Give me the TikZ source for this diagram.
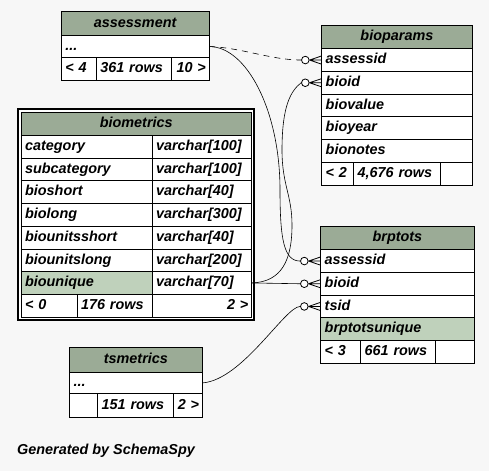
\documentclass[tikz,border=0pt]{standalone}
\usepackage{fontspec}
\setmainfont{Liberation Sans}
\usetikzlibrary{calc}
\definecolor{hdrgreen}{RGB}{155,171,150}
\definecolor{keygreen}{RGB}{191,209,187}
\definecolor{bggray}{RGB}{247,247,247}
\tikzset{
	tbl/.style={draw, line width=0.8pt, anchor=north west, inner xsep=4pt, inner ysep=0pt,
		text height=10.5pt, text depth=3pt,
		minimum height=22.7pt, fill=white, font=\fontsize{14.4}{16}\selectfont\bfseries\itshape},
	hdr/.style={tbl, fill=hdrgreen, minimum width=#1pt},
	fld/.style={tbl, text width=#1pt-8pt, align=left},
	keyfld/.style={fld=#1, fill=keygreen},
	cnt/.style={tbl, inner xsep=3pt, text width=#1pt-6pt, align=right},
	ring/.style={circle, draw, fill=white, inner sep=0pt, minimum size=7.6pt, line width=0.8pt},
	rel/.style={line width=0.6pt}
}
\newcommand{\crowfoot}[2]{%
	\draw[rel, line width=0.8pt] (#1.east) -- (#2.west)
		(#1.east) -- ($(#2.west)+(0,-4)$)
		(#1.east) -- ($(#2.west)+(0,4)$);}

\begin{document}
\begin{tikzpicture}[x=1pt, y=-1pt]
	\useasboundingbox[fill=bggray] (0,0) rectangle (489,471);

	% assessment
	\node[hdr=147.5, minimum height=23.7pt] (as-head) at (61,11.3) {assessment};
	\node[fld=147.5, minimum height=22.3pt] (as-row)  at (61,35)   {...};
	\node[fld=35]   (as-in)   at (61,57.3)  {<~4};
	\node[fld=75]   (as-rows) at (96,57.3)  {361~rows};
	\node[cnt=37.5] (as-out)  at (171,57.3) {10~>};

	% bioparams
	\node[hdr=150.4, minimum height=23.6pt] (bp-head) at (321.3,24.7) {bioparams};
	\node[fld=150.4] (bp-assessid) at (321.3,48.3)  {assessid};
	\node[fld=150.4] (bp-bioid)    at (321.3,71)    {bioid};
	\node[fld=150.4] (bp-biovalue) at (321.3,93.7)  {biovalue};
	\node[fld=150.4] (bp-bioyear)  at (321.3,116.4) {bioyear};
	\node[fld=150.4] (bp-bionotes) at (321.3,139.1) {bionotes};
	\node[fld=32]    (bp-in)   at (321.3,161.8) {<~2};
	\node[fld=87]    (bp-rows) at (353.3,161.8) {4,676~rows};
	\node[fld=31.4]  (bp-out)  at (440.3,161.8) {};

	% biometrics
	\draw[line width=2pt, fill=white] (17.7,109.3) rectangle (254,319.6);
	\node[hdr=230.3, minimum height=23.3pt] (bm-head) at (20.7,111.7) {biometrics};
	\node[fld=131]   (bm-category)        at (20.7,135)    {category};
	\node[fld=99.3]  (bm-category-t)      at (151.7,135)   {varchar[100]};
	\node[fld=131]   (bm-subcategory)     at (20.7,157.7)  {subcategory};
	\node[fld=99.3]  (bm-subcategory-t)   at (151.7,157.7) {varchar[100]};
	\node[fld=131]   (bm-bioshort)        at (20.7,180.4)  {bioshort};
	\node[fld=99.3]  (bm-bioshort-t)      at (151.7,180.4) {varchar[40]};
	\node[fld=131]   (bm-biolong)         at (20.7,203.1)  {biolong};
	\node[fld=99.3]  (bm-biolong-t)       at (151.7,203.1) {varchar[300]};
	\node[fld=131]   (bm-biounitsshort)   at (20.7,225.8)  {biounitsshort};
	\node[fld=99.3]  (bm-biounitsshort-t) at (151.7,225.8) {varchar[40]};
	\node[fld=131]   (bm-biounitslong)    at (20.7,248.5)  {biounitslong};
	\node[fld=99.3]  (bm-biounitslong-t)  at (151.7,248.5) {varchar[200]};
	\node[keyfld=131](bm-biounique)       at (20.7,271.2)  {biounique};
	\node[fld=99.3]  (bm-biounique-t)     at (151.7,271.2) {varchar[70]};
	\node[fld=56]    (bm-in)   at (20.7,293.9)  {<~0};
	\node[fld=75]    (bm-rows) at (76.7,293.9)  {176~rows};
	\node[cnt=99.3]  (bm-out)  at (151.7,293.9) {2~>};

	% brptots
	\node[hdr=153.4, minimum height=23.6pt] (bt-head) at (320.3,225.7) {brptots};
	\node[fld=153.4]    (bt-assessid) at (320.3,249.3) {assessid};
	\node[fld=153.4]    (bt-bioid)    at (320.3,272)   {bioid};
	\node[fld=153.4]    (bt-tsid)     at (320.3,294.7) {tsid};
	\node[keyfld=153.4] (bt-unique)   at (320.3,317.4) {brptotsunique};
	\node[fld=40]       (bt-in)   at (320.3,340.1) {<~3};
	\node[fld=75]       (bt-rows) at (360.3,340.1) {661~rows};
	\node[fld=38.4]     (bt-out)  at (435.3,340.1) {};

	% tsmetrics
	\node[hdr=132.4, minimum height=24.4pt] (ts-head) at (69.3,347.3) {tsmetrics};
	\node[fld=132.4, minimum height=21.6pt] (ts-row)  at (69.3,371.7) {...};
	\node[fld=28, minimum height=23.4pt]   (ts-in)   at (69.3,393.3)  {};
	\node[fld=75.4, minimum height=23.4pt] (ts-rows) at (97.3,393.3)  {151~rows};
	\node[cnt=29, minimum height=23.4pt]   (ts-out)  at (172.7,393.3) {2~>};

	% rings in front of the foreign keys
	\node[ring] (bp-assessid-r) at ($(bp-assessid.west)+(-16,0)$) {};
	\node[ring] (bp-bioid-r)    at ($(bp-bioid.west)+(-16,0)$) {};
	\node[ring] (bt-assessid-r) at ($(bt-assessid.west)+(-16,0)$) {};
	\node[ring] (bt-bioid-r)    at ($(bt-bioid.west)+(-16,0)$) {};
	\node[ring] (bt-tsid-r)     at ($(bt-tsid.west)+(-16,0)$) {};
	\crowfoot{bp-assessid-r}{bp-assessid}
	\crowfoot{bp-bioid-r}{bp-bioid}
	\crowfoot{bt-assessid-r}{bt-assessid}
	\crowfoot{bt-bioid-r}{bt-bioid}
	\crowfoot{bt-tsid-r}{bt-tsid}

	% relations
	\draw[rel, dash pattern=on 6pt off 5pt] (as-row.east) .. controls +(32,1) and +(-30,0) .. (bp-assessid-r.west);
	\draw[rel] (as-row.east) .. controls +(37,0) and (280,110) .. (280,190)
		.. controls (280,240) and +(-16,0) .. (bt-assessid-r.west);
	\draw[rel] (bm-biounique-t.east) .. controls +(30,-1) and (292,260) .. (292,225)
		.. controls (292,195) and (282,185) .. (282,150)
		.. controls (282,105) and +(-10,8) .. (bp-bioid-r.west);
	\draw[rel] (bm-biounique-t.east) -- (bt-bioid-r.west);
	\draw[rel] (ts-row.east) .. controls +(40,-3) and +(-15,0) .. (bt-tsid-r.west);

	\node[anchor=west, inner sep=0pt, font=\fontsize{14.4}{16}\selectfont\bfseries\itshape] (credit) at (17,451) {Generated by SchemaSpy};
\end{tikzpicture}
\end{document}
